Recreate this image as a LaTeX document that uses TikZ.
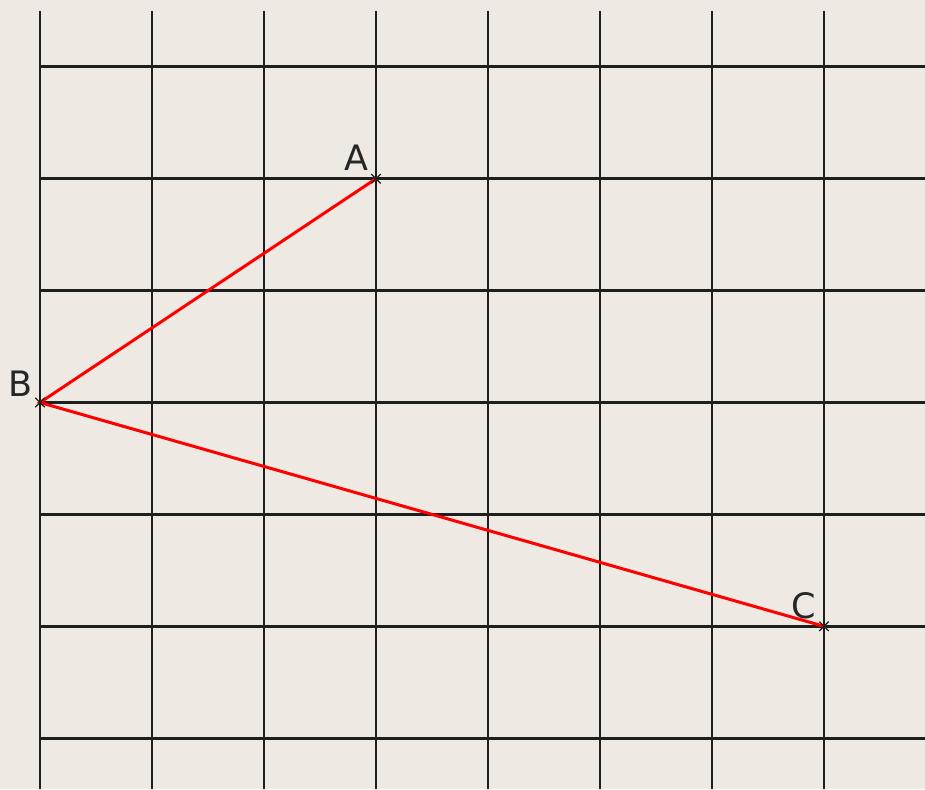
\documentclass[tikz,border=0pt]{standalone}
\usepackage{fontspec}
\setmainfont{DejaVu Sans}
\usetikzlibrary{shapes.misc}
\definecolor{bg}{HTML}{EEEAE3}
\definecolor{gridc}{HTML}{1E1E1E}
\tikzset{
  gridline/.style={draw=gridc, line width=2.6pt},
  seg/.style={draw=red, line width=3pt},
  pt/.style={cross out, draw=gridc, line width=1.3pt, minimum size=8pt, inner sep=0pt},
  lbl/.style={font=\fontsize{35}{35}\selectfont, text=black!85, inner sep=0pt}
}
\begin{document}
\begin{tikzpicture}[x=1pt,y=-1pt]
\fill[bg] (0,0) rectangle (925,789);
\useasboundingbox (0,0) rectangle (925,789);
\foreach \i in {0,...,7} {
  \draw[gridline] (40+112*\i,11) -- (40+112*\i,789);
}
\foreach \j in {0,...,6} {
  \draw[gridline] (40,66.8+111.9*\j) -- (925,66.8+111.9*\j);
}
\coordinate (A) at (376,178.7);
\coordinate (B) at (40,402.5);
\coordinate (C) at (824,626.3);
\draw[seg] (A) -- (B) -- (C);
\node[pt] (pA) at (A) {};
\node[pt] (pB) at (B) {};
\node[pt] (pC) at (C) {};
\node[lbl, anchor=base east] (lA) at (369,170) {A};
\node[lbl, anchor=base east] (lB) at (33,396) {B};
\node[lbl, anchor=base east] (lC) at (816,618) {C};
\end{tikzpicture}
\end{document}
